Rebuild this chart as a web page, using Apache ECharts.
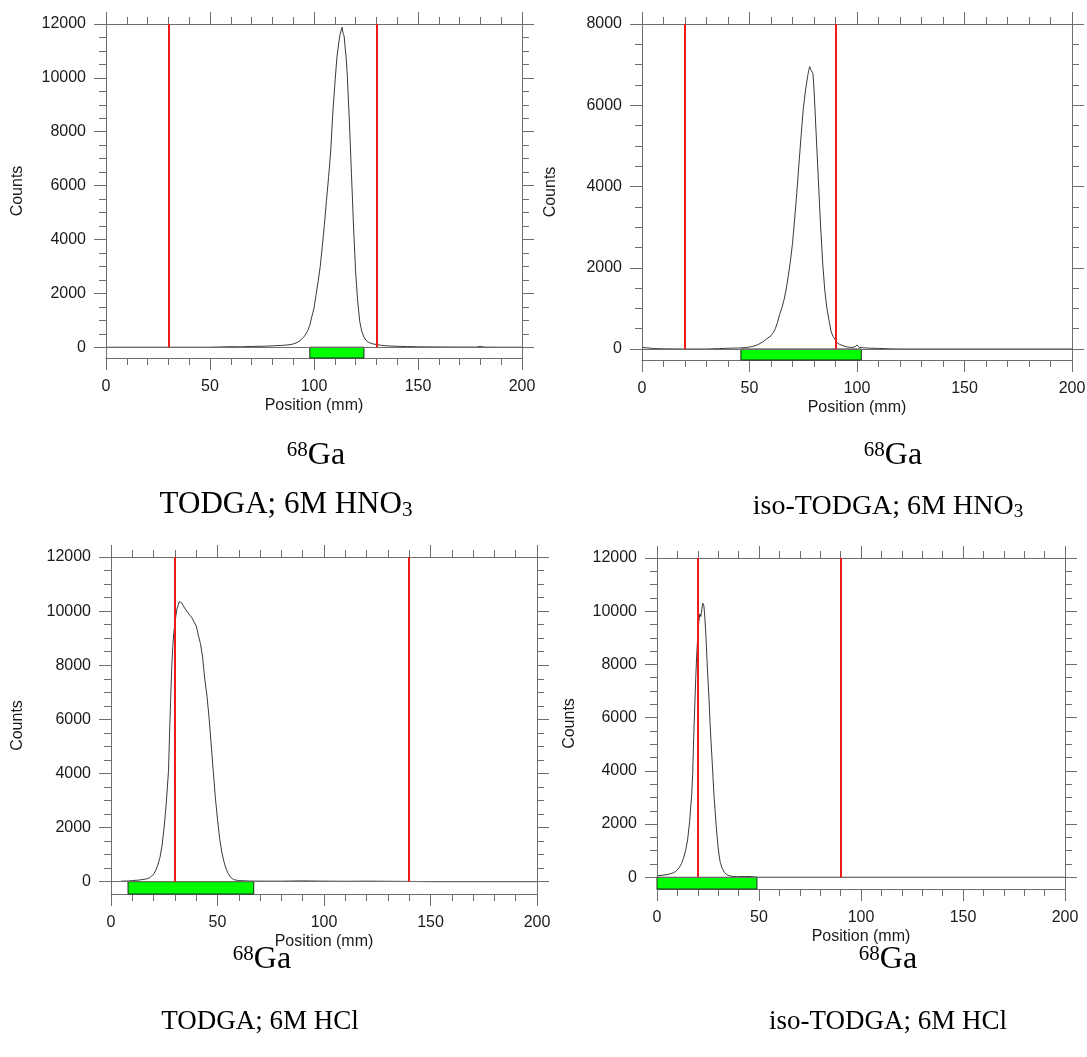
<!DOCTYPE html>
<html>
<head>
<meta charset="utf-8">
<script src="https://cdn.jsdelivr.net/npm/echarts@6/dist/echarts.min.js"></script>
<style>
  html, body { margin: 0; padding: 0; background: #ffffff; }
  #chart { width: 1087px; height: 1057px; }
</style>
</head>
<body>
<div id="chart"></div>
<script>
// ---- Radio-TLC scans of 68Ga (counts vs. position along the strip) ----

// Shared tick labels
const positionTicks = [0, 50, 100, 150, 200];
const countTicks12k = [0, 2000, 4000, 6000, 8000, 10000, 12000];
const countTicks8k = [0, 2000, 4000, 6000, 8000];

// TODGA; 6M HNO3
const todgaHno3Pos = [0, 10, 20, 30, 40, 50, 55, 60, 65, 70, 75, 80, 85, 88, 90, 92, 94, 95, 96, 97, 98, 99, 99.5, 100, 101, 102, 103, 104, 105, 106, 107, 108, 109, 110, 111, 112, 112.5, 113, 113.5, 114, 114.5, 115, 115.5, 116, 117, 118, 119, 120, 121, 122, 123, 124, 125, 126, 128, 130, 132, 135, 140, 145, 150, 160, 170, 178, 180, 182, 190, 200];
const todgaHno3Counts = [0, 0, 0, 0, 0, 0, 10, 20, 15, 30, 35, 50, 70, 90, 120, 180, 290, 370, 480, 620, 820, 1150, 1300, 1450, 1950, 2450, 3000, 3750, 4550, 5450, 6300, 7250, 8650, 9750, 10750, 11350, 11600, 11750, 11880, 11650, 11550, 11100, 10700, 10100, 8400, 6450, 4500, 2800, 1700, 950, 580, 380, 260, 190, 130, 100, 75, 50, 35, 25, 15, 10, 5, 5, 30, 5, 0, 0];
const todgaHno3Cuts = [30, 130];
const todgaHno3Band = [98, 124];

// iso-TODGA; 6M HNO3
const isoHno3Pos = [0, 2, 4, 6, 10, 20, 30, 36, 40, 45, 48, 50, 52, 54, 56, 58, 60, 61, 62, 63, 64, 65, 66, 67, 68, 69, 70, 71, 72, 73, 74, 75, 76, 77, 77.5, 78, 78.5, 79, 79.5, 80, 81, 82, 83, 84, 85, 86, 87, 88, 89, 90, 91, 93, 95, 97, 99, 100, 101, 103, 106, 110, 115, 120, 200];
const isoHno3Counts = [40, 30, 20, 10, 5, 0, 0, 10, 20, 25, 35, 50, 70, 110, 170, 250, 330, 400, 500, 650, 850, 1000, 1200, 1450, 1780, 2150, 2600, 3200, 3850, 4550, 5250, 5900, 6350, 6700, 6850, 6950, 6880, 6920, 6780, 6400, 5300, 4200, 3100, 2150, 1450, 1000, 700, 420, 300, 220, 140, 90, 55, 40, 50, 100, 40, 30, 20, 15, 5, 0, 0];
const isoHno3Cuts = [20, 90];
const isoHno3Band = [46, 102];

// TODGA; 6M HCl
const todgaHclPos = [4, 5, 8, 10, 13, 15, 17, 18, 19, 20, 21, 22, 23, 24, 25, 26, 27, 27.5, 28, 28.5, 29, 29.5, 30, 30.5, 31, 31.5, 32, 32.5, 33, 33.5, 34, 34.5, 35, 36, 37, 38, 39, 40, 40.5, 41, 42, 43, 44, 45, 46, 47, 48, 49, 50, 51, 52, 53, 54, 55, 56, 57, 58, 60, 65, 70, 80, 90, 100, 110, 120, 130, 140, 145, 150, 200];
const todgaHclCounts = [0, 20, 25, 40, 60, 80, 110, 140, 200, 280, 420, 620, 900, 1350, 2050, 2950, 4100, 5500, 6700, 7900, 8700, 9200, 9550, 9850, 10100, 10200, 10350, 10280, 10320, 10250, 10200, 10120, 10080, 9950, 9850, 9750, 9600, 9450, 9300, 9100, 8800, 8300, 7500, 6900, 6100, 5100, 4100, 3100, 2300, 1600, 1100, 750, 480, 300, 180, 110, 70, 40, 25, 20, 20, 30, 20, 15, 20, 15, 10, 5, 0, 0];
const todgaHclCuts = [30, 140];
const todgaHclBand = [8, 67];

// iso-TODGA; 6M HCl
const isoHclPos = [0, 2, 4, 6, 8, 9, 10, 11, 12, 13, 14, 15, 16, 17, 17.5, 18, 18.5, 19, 19.5, 20, 20.5, 21, 21.5, 22, 22.5, 23, 23.5, 24, 24.5, 25, 25.5, 26, 26.5, 27, 27.5, 28, 28.5, 29, 29.5, 30, 30.5, 31, 32, 33, 34, 35, 37, 39, 41, 43, 45, 47, 48, 50, 200];
const isoHclCounts = [50, 70, 90, 120, 170, 210, 280, 380, 520, 720, 1000, 1400, 2100, 3100, 3900, 5300, 6400, 7500, 8400, 9100, 9600, 9900, 9800, 10100, 10300, 10200, 9700, 9050, 8200, 7400, 6700, 5800, 5100, 4400, 3700, 3000, 2500, 1950, 1500, 1100, 800, 560, 330, 190, 110, 70, 35, 20, 30, 25, 30, 20, 10, 0, 0];
const isoHclCuts = [20, 90];
const isoHclBand = [0, 49];

// Caption texts (rich-text markup: sup = superscript, sub = subscript)
const isotopeCaption = '{sup|68}{m|Ga}';
const panelTitles = [
  '{t|TODGA; 6M HNO}{sub|3}',
  '{t|iso-TODGA; 6M HNO}{sub|3}',
  '{t|TODGA; 6M HCl}',
  '{t|iso-TODGA; 6M HCl}'
];

// ---- styling ----
const SANS = '"Liberation Sans", Arial, Helvetica, sans-serif';
const SERIF = '"Liberation Serif", "Times New Roman", serif';
const AXIS = '#6e6e6e';
const TEXT = '#1a1a1a';
const CURVE = '#3a3a3a';
const RED = '#f01c1c';
const GREEN = '#00ff00';

// Panel layout and axis ranges
const panels = [
  { pos: todgaHno3Pos, counts: todgaHno3Counts, cuts: todgaHno3Cuts, band: todgaHno3Band,
    yTicks: countTicks12k, yMax: 12000, yMin: -400,
    grid: { left: 106, top: 24, width: 416, height: 334 }, yNameGap: 80,
    cap: { x1: 316, y1: 456, x2: 286, y2: 505, size: 31 } },
  { pos: isoHno3Pos, counts: isoHno3Counts, cuts: isoHno3Cuts, band: isoHno3Band,
    yTicks: countTicks8k, yMax: 8000, yMin: -270,
    grid: { left: 642, top: 24, width: 430, height: 336 }, yNameGap: 83,
    cap: { x1: 893, y1: 456, x2: 888, y2: 507, size: 28 } },
  { pos: todgaHclPos, counts: todgaHclCounts, cuts: todgaHclCuts, band: todgaHclBand,
    yTicks: countTicks12k, yMax: 12000, yMin: -455,
    grid: { left: 111, top: 557, width: 426, height: 337 }, yNameGap: 85,
    cap: { x1: 262, y1: 960, x2: 260, y2: 1022, size: 27 } },
  { pos: isoHclPos, counts: isoHclCounts, cuts: isoHclCuts, band: isoHclBand,
    yTicks: countTicks12k, yMax: 12000, yMin: -440,
    grid: { left: 657, top: 558, width: 408, height: 331 }, yNameGap: 79,
    cap: { x1: 888, y1: 960, x2: 888, y2: 1022, size: 27 } }
];

function minorTicks(max) {
  const out = [];
  for (let v = 500; v < max; v += 500) if (v % 2000 !== 0) out.push(v);
  return out;
}

const grids = [], xAxes = [], yAxes = [], series = [], graphics = [];
const tickStyle = { color: AXIS, width: 1 };
const axisLine = { show: true, onZero: false, lineStyle: { color: AXIS, width: 1 } };
const labelFont = { fontSize: 16, color: TEXT, fontFamily: SANS };
const plainNumber = v => String(v);

panels.forEach((p, i) => {
  grids.push(Object.assign({ outerBoundsMode: 'none', containLabel: false }, p.grid));

  const xBase = {
    gridIndex: i, type: 'value', min: 0, max: 200, interval: 50,
    axisLine: axisLine,
    axisTick: { show: true, inside: false, length: 12, lineStyle: tickStyle },
    minorTick: { show: true, splitNumber: 5, length: 7, lineStyle: tickStyle },
    splitLine: { show: false }, minorSplitLine: { show: false }
  };
  xAxes.push(Object.assign({}, xBase, {
    position: 'bottom',
    axisLabel: Object.assign({ show: true, margin: 21, customValues: positionTicks, formatter: plainNumber }, labelFont),
    name: 'Position (mm)', nameLocation: 'middle', nameGap: 40,
    nameTextStyle: labelFont
  }));
  xAxes.push(Object.assign({}, xBase, { position: 'top', axisLabel: { show: false } }));

  const yBase = {
    gridIndex: i, type: 'value', min: p.yMin, max: p.yMax,
    splitLine: { show: false }, axisLine: axisLine
  };
  const minors = minorTicks(p.yMax);
  // left: major ticks with labels
  yAxes.push(Object.assign({}, yBase, {
    position: 'left',
    axisTick: { show: true, length: 12, customValues: p.yTicks, lineStyle: tickStyle },
    axisLabel: Object.assign({ show: true, margin: 20, customValues: p.yTicks, formatter: plainNumber }, labelFont),
    name: 'Counts', nameLocation: 'middle', nameRotate: 90, nameGap: p.yNameGap,
    nameTextStyle: labelFont
  }));
  // left: minor ticks
  yAxes.push(Object.assign({}, yBase, {
    position: 'left',
    axisTick: { show: true, length: 7, customValues: minors, lineStyle: tickStyle },
    axisLabel: { show: false }
  }));
  // right: major + minor ticks
  yAxes.push(Object.assign({}, yBase, {
    position: 'right',
    axisTick: { show: true, length: 12, customValues: p.yTicks, lineStyle: tickStyle },
    axisLabel: { show: false }
  }));
  yAxes.push(Object.assign({}, yBase, {
    position: 'right',
    axisTick: { show: true, length: 7, customValues: minors, lineStyle: tickStyle },
    axisLabel: { show: false }
  }));

  const xi = i * 2, yi = i * 4;

  // green spot band below the baseline + zero line
  series.push({
    type: 'line', xAxisIndex: xi, yAxisIndex: yi, data: [], silent: true, z: 1,
    markArea: {
      silent: true,
      itemStyle: { color: GREEN, borderColor: '#1e2a1e', borderWidth: 1 },
      data: [[{ coord: [p.band[0], p.yMin] }, { coord: [p.band[1], 0] }]]
    },
    markLine: {
      silent: true, symbol: ['none', 'none'], label: { show: false },
      lineStyle: { color: AXIS, width: 1, type: 'solid' },
      data: [{ yAxis: 0 }]
    }
  });

  // radio-scan trace
  series.push({
    type: 'line', xAxisIndex: xi, yAxisIndex: yi, z: 2, silent: true,
    data: p.pos.map((x, k) => [x, p.counts[k]]),
    showSymbol: false, symbol: 'none',
    lineStyle: { color: CURVE, width: 1 }
  });

  // red region-of-interest markers
  series.push({
    type: 'line', xAxisIndex: xi, yAxisIndex: yi, data: [], silent: true, z: 3,
    markLine: {
      silent: true, symbol: ['none', 'none'], label: { show: false },
      lineStyle: { color: RED, width: 2, type: 'solid' },
      data: p.cuts.map(c => [{ coord: [c, 0] }, { coord: [c, p.yMax] }])
    }
  });

  // captions under each panel
  const s = p.cap.size;
  const rich = {
    m: { fontSize: 32, fontFamily: SERIF, fill: '#000', lineHeight: 33 },
    t: { fontSize: s, fontFamily: SERIF, fill: '#000', lineHeight: s + 1 },
    sup: { fontSize: 21, fontFamily: SERIF, fill: '#000', lineHeight: 18, verticalAlign: 'top' },
    sub: { fontSize: Math.round(s * 0.67), fontFamily: SERIF, fill: '#000', lineHeight: Math.round(s * 0.45), verticalAlign: 'bottom' }
  };
  graphics.push({
    type: 'text', silent: true,
    style: { text: isotopeCaption, x: p.cap.x1, y: p.cap.y1, align: 'center', verticalAlign: 'middle', rich: rich }
  });
  graphics.push({
    type: 'text', silent: true,
    style: { text: panelTitles[i], x: p.cap.x2, y: p.cap.y2, align: 'center', verticalAlign: 'middle', rich: rich }
  });
});

const chart = echarts.init(document.getElementById('chart'), null, { renderer: 'canvas' });
chart.setOption({
  animation: false,
  backgroundColor: '#ffffff',
  grid: grids,
  xAxis: xAxes,
  yAxis: yAxes,
  series: series,
  graphic: graphics
});
</script>
</body>
</html>
